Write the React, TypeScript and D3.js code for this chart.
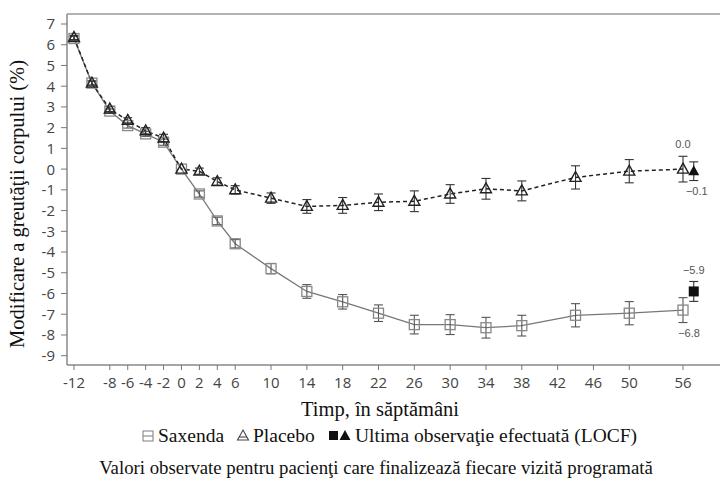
import React from "react";
import * as d3 from "d3";

const weeks = [-12, -10, -8, -6, -4, -2, 0, 2, 4, 6, 10, 14, 18, 22, 26, 30, 34, 38, 44, 50, 56];
const saxenda = [6.3, 4.15, 2.8, 2.1, 1.7, 1.3, 0, -1.2, -2.5, -3.6, -4.8, -5.9, -6.4, -6.95, -7.5, -7.5, -7.65, -7.55, -7.05, -6.95, -6.8];
const placebo = [6.35, 4.15, 2.9, 2.35, 1.85, 1.5, 0, -0.1, -0.6, -1.0, -1.4, -1.8, -1.75, -1.6, -1.55, -1.2, -0.95, -1.05, -0.4, -0.1, 0.0];
const saxendaErr = [0.1, 0.1, 0.1, 0.12, 0.12, 0.15, 0, 0.15, 0.18, 0.2, 0.25, 0.33, 0.35, 0.4, 0.45, 0.48, 0.5, 0.5, 0.56, 0.56, 0.6];
const placeboErr = [0.1, 0.1, 0.12, 0.13, 0.15, 0.18, 0, 0.15, 0.18, 0.2, 0.25, 0.33, 0.38, 0.4, 0.5, 0.45, 0.5, 0.48, 0.56, 0.56, 0.62];

const locfWeek = 57.2;
const locfSaxenda = -5.9;
const locfSaxendaErr = 0.48;
const locfPlacebo = -0.1;
const locfPlaceboErr = 0.45;

const xTicks = [-12, -8, -6, -4, -2, 0, 2, 4, 6, 10, 14, 18, 22, 26, 30, 34, 38, 42, 46, 50, 56];
const yTicks = [7, 6, 5, 4, 3, 2, 1, 0, -1, -2, -3, -4, -5, -6, -7, -8, -9];

const yTitle = "Modificare a greutăţii corpului (%)";
const xTitle = "Timp, în săptămâni";
const legendLabels = ["Saxenda", "Placebo", "Ultima observaţie efectuată (LOCF)"];
const caption = "Valori observate pentru pacienţi care finalizează fiecare vizită programată";

const W = 720;
const H = 484;
const plotLeft = 67;
const plotTop = 14;
const plotBottom = 365;
const plotRight = 726;

const x = d3.scaleLinear().domain([-12, 56]).range([74, 683]);
const y = d3.scaleLinear().domain([7, -9]).range([24, 355.7]);

const fmtTick = (v: number) => (v < 0 ? "-" + Math.abs(v) : String(v));
const fmtVal = (v: number) => (v < 0 ? "\u2212" + Math.abs(v).toFixed(1) : Math.abs(v).toFixed(1));

const sansTick = "'Open Sans', 'DejaVu Sans', sans-serif";
const serif = "'Liberation Serif', 'Times New Roman', serif";
const sansAnno = "'Liberation Sans', Arial, sans-serif";

function triPath(cx: number, cy: number, s: number) {
  const h = s * 0.9;
  return `M${cx},${cy - h * 0.6} L${cx + s / 2},${cy + h * 0.4} L${cx - s / 2},${cy + h * 0.4} Z`;
}

function ErrorBar({ cx, lo, hi, color }: { cx: number; lo: number; hi: number; color: string }) {
  const cap = 4.5;
  return (
    <g stroke={color} strokeWidth={1.1}>
      <line x1={cx} x2={cx} y1={lo} y2={hi} />
      <line x1={cx - cap} x2={cx + cap} y1={lo} y2={lo} />
      <line x1={cx - cap} x2={cx + cap} y1={hi} y2={hi} />
    </g>
  );
}

export default function App() {
  const saxLine = d3
    .line<number>()
    .x((_, i) => x(weeks[i]))
    .y((d) => y(d));
  const plaLine = d3
    .line<number>()
    .x((_, i) => x(weeks[i]))
    .y((d) => y(d));

  const sq = 10;
  const tri = 11;

  return (
    <svg
      width={W}
      height={H}
      viewBox={`0 0 ${W} ${H}`}
      style={{ position: "absolute", left: 0, top: 0, background: "#fff" }}
    >
      {/* frame */}
      <line x1={plotLeft} x2={plotRight} y1={plotTop} y2={plotTop} stroke="#999" strokeWidth={1.5} />
      <line x1={plotLeft} x2={plotLeft} y1={plotTop} y2={plotBottom} stroke="#888" strokeWidth={1.5} />
      <line x1={plotLeft} x2={plotRight} y1={plotBottom} y2={plotBottom} stroke="#888" strokeWidth={1.5} />

      {/* y axis ticks */}
      {yTicks.map((t) => (
        <g key={"y" + t}>
          <line x1={plotLeft - 6} x2={plotLeft} y1={y(t)} y2={y(t)} stroke="#777" strokeWidth={1} />
          <text
            x={plotLeft - 12}
            y={y(t)}
            dy="0.36em"
            textAnchor="end"
            fontFamily={sansTick}
            fontSize={15}
            fill="#444"
          >
            {fmtTick(t)}
          </text>
        </g>
      ))}

      {/* x axis ticks */}
      {xTicks.map((t) => (
        <g key={"x" + t}>
          <line x1={x(t)} x2={x(t)} y1={plotBottom} y2={plotBottom + 5} stroke="#777" strokeWidth={1} />
          <text
            x={x(t)}
            y={plotBottom + 23}
            textAnchor="middle"
            fontFamily={sansTick}
            fontSize={15}
            fill="#444"
          >
            {fmtTick(t)}
          </text>
        </g>
      ))}

      {/* lines */}
      <path d={saxLine(saxenda) || ""} fill="none" stroke="#777" strokeWidth={1.3} />
      <path d={plaLine(placebo) || ""} fill="none" stroke="#222" strokeWidth={1.5} strokeDasharray="4,3" />

      {/* error bars */}
      {weeks.map((w, i) =>
        saxendaErr[i] > 0 ? (
          <ErrorBar
            key={"se" + w}
            cx={x(w)}
            lo={y(saxenda[i] - saxendaErr[i])}
            hi={y(saxenda[i] + saxendaErr[i])}
            color="#555"
          />
        ) : null
      )}
      {weeks.map((w, i) =>
        placeboErr[i] > 0 ? (
          <ErrorBar
            key={"pe" + w}
            cx={x(w)}
            lo={y(placebo[i] - placeboErr[i])}
            hi={y(placebo[i] + placeboErr[i])}
            color="#333"
          />
        ) : null
      )}
      <ErrorBar
        cx={x(locfWeek)}
        lo={y(locfSaxenda - locfSaxendaErr)}
        hi={y(locfSaxenda + locfSaxendaErr)}
        color="#333"
      />
      <ErrorBar
        cx={x(locfWeek)}
        lo={y(locfPlacebo - locfPlaceboErr)}
        hi={y(locfPlacebo + locfPlaceboErr)}
        color="#333"
      />

      {/* markers */}
      {weeks.map((w, i) => (
        <rect
          key={"sm" + w}
          x={x(w) - sq / 2}
          y={y(saxenda[i]) - sq / 2}
          width={sq}
          height={sq}
          fill="none"
          stroke="#888"
          strokeWidth={1.3}
        />
      ))}
      {weeks.map((w, i) => (
        <path
          key={"pm" + w}
          d={triPath(x(w), y(placebo[i]), tri)}
          fill="none"
          stroke="#222"
          strokeWidth={1.4}
        />
      ))}
      <rect
        x={x(locfWeek) - sq / 2}
        y={y(locfSaxenda) - sq / 2}
        width={sq}
        height={sq}
        fill="#111"
      />
      <path d={triPath(x(locfWeek), y(locfPlacebo), tri)} fill="#111" />

      {/* value annotations */}
      <text
        x={x(56)}
        y={y(placebo[placebo.length - 1] + placeboErr[placeboErr.length - 1]) - 8}
        textAnchor="middle"
        fontFamily={sansAnno}
        fontSize={11}
        fill="#555"
      >
        {fmtVal(placebo[placebo.length - 1])}
      </text>
      <text
        x={x(locfWeek) + 3}
        y={y(locfPlacebo - locfPlaceboErr) + 14}
        textAnchor="middle"
        fontFamily={sansAnno}
        fontSize={11}
        fill="#555"
      >
        {fmtVal(locfPlacebo)}
      </text>
      <text
        x={x(locfWeek)}
        y={y(locfSaxenda + locfSaxendaErr) - 7}
        textAnchor="middle"
        fontFamily={sansAnno}
        fontSize={11}
        fill="#555"
      >
        {fmtVal(locfSaxenda)}
      </text>
      <text
        x={x(56) + 6}
        y={y(saxenda[saxenda.length - 1] - saxendaErr[saxendaErr.length - 1]) + 14}
        textAnchor="middle"
        fontFamily={sansAnno}
        fontSize={11}
        fill="#555"
      >
        {fmtVal(saxenda[saxenda.length - 1])}
      </text>

      {/* axis titles */}
      <text
        transform={`translate(24, 204) rotate(-90)`}
        textAnchor="middle"
        fontFamily={serif}
        fontSize={20.5}
        fill="#111"
      >
        {yTitle}
      </text>
      <text x={380} y={416} textAnchor="middle" fontFamily={serif} fontSize={20.5} fill="#111">
        {xTitle}
      </text>

      {/* legend */}
      <g>
        <rect x={143} y={431} width={10} height={10} fill="none" stroke="#888" strokeWidth={1.1} />
        <line x1={143} x2={153} y1={436} y2={436} stroke="#888" strokeWidth={1.1} />
        <text x={158} y={442} fontFamily={serif} fontSize={19.5} fill="#111">
          {legendLabels[0]}
        </text>
        <path d={triPath(243, 436, 11)} fill="none" stroke="#444" strokeWidth={1.1} />
        <line x1={239} x2={247} y1={437} y2={437} stroke="#444" strokeWidth={1.1} />
        <text x={253} y={442} fontFamily={serif} fontSize={19.5} fill="#111">
          {legendLabels[1]}
        </text>
        <rect x={329} y={431} width={9} height={9} fill="#111" />
        <path d={triPath(345, 436, 11)} fill="#111" />
        <text x={355} y={442} fontFamily={serif} fontSize={19.5} fill="#111">
          {legendLabels[2]}
        </text>
      </g>

      {/* caption */}
      <text x={376} y={474} textAnchor="middle" fontFamily={serif} fontSize={18.8} fill="#111">
        {caption}
      </text>
    </svg>
  );
}
